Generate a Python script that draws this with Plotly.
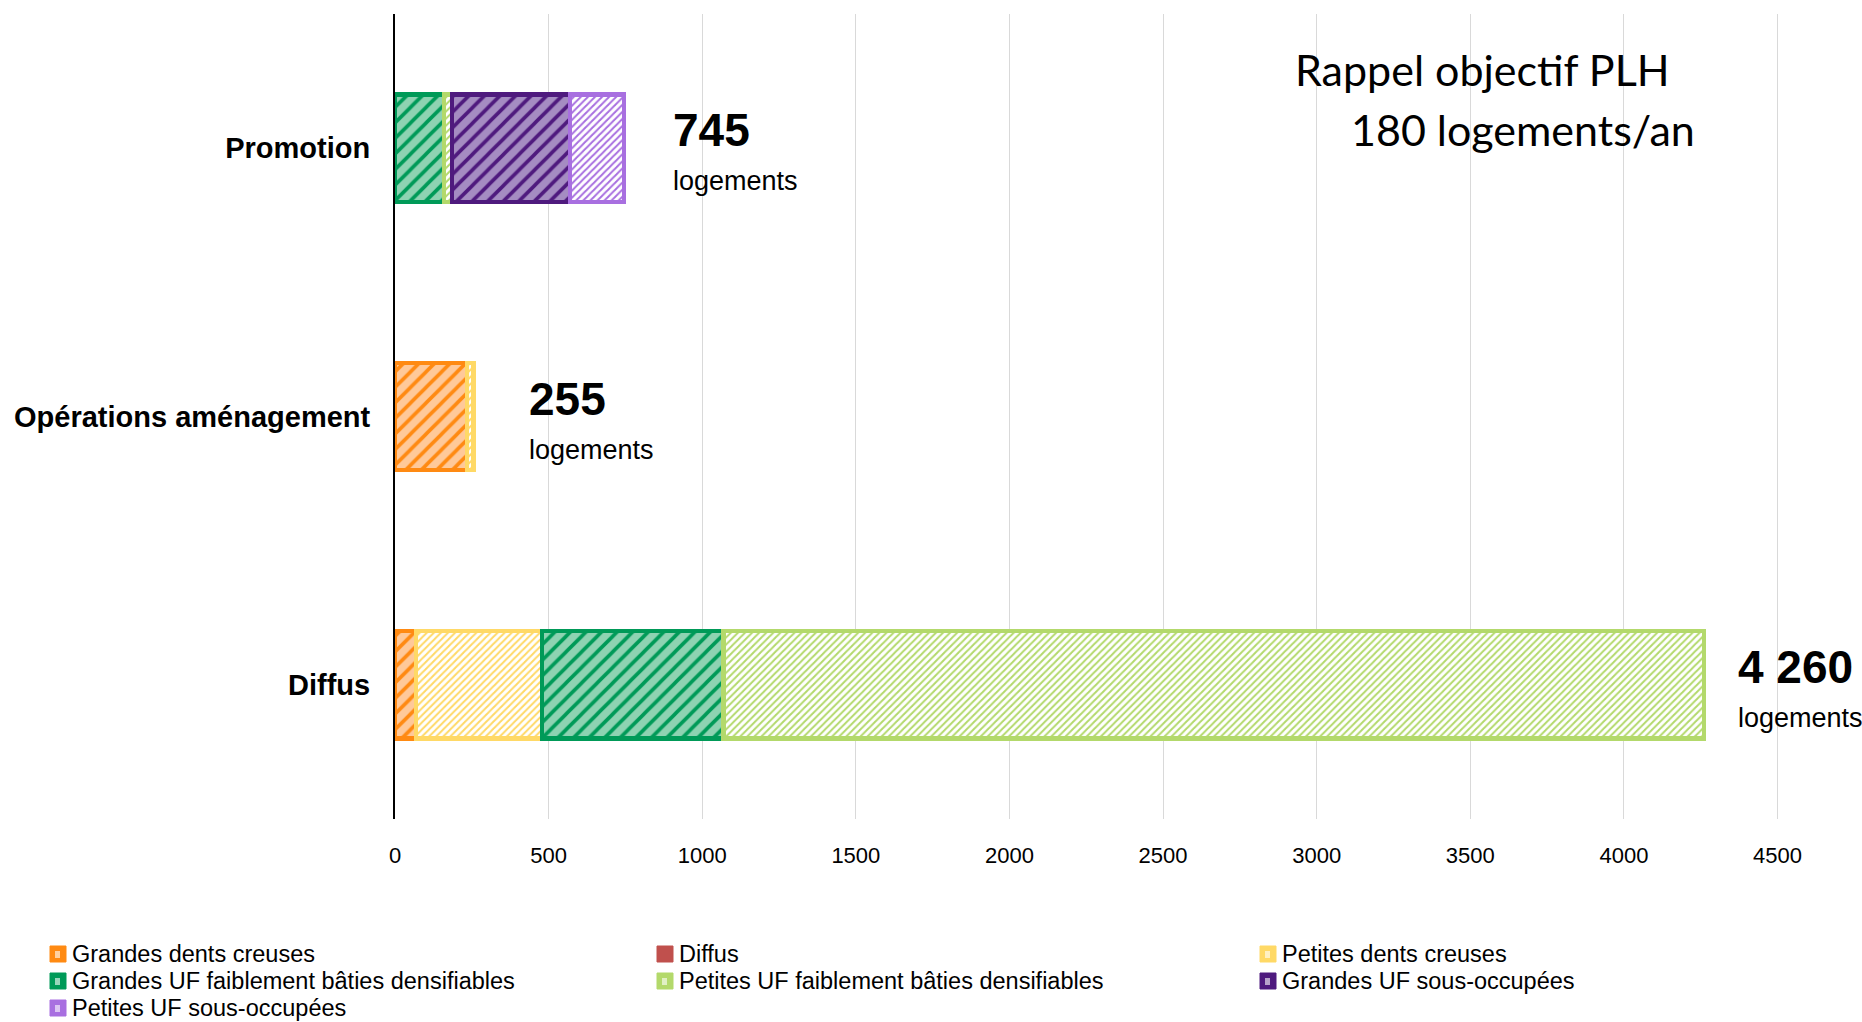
import plotly.graph_objects as go

# ---------------- data ----------------
categories = ["Diffus", "Opérations aménagement", "Promotion"]

series_names = [
    "Grandes dents creuses",
    "Diffus",
    "Petites dents creuses",
    "Grandes UF faiblement bâties densifiables",
    "Petites UF faiblement bâties densifiables",
    "Grandes UF sous-occupées",
    "Petites UF sous-occupées",
]
grandes_dents_creuses = [68, 235, None]
diffus = [None, None, None]
petites_dents_creuses = [410, 20, None]
grandes_uf_faibl = [592, None, 160]
petites_uf_faibl = [3190, None, 25]
grandes_uf_sous = [None, None, 385]
petites_uf_sous = [None, None, 175]

series_values = [
    grandes_dents_creuses, diffus, petites_dents_creuses,
    grandes_uf_faibl, petites_uf_faibl, grandes_uf_sous, petites_uf_sous,
]

x_tick_values = [0, 500, 1000, 1500, 2000, 2500, 3000, 3500, 4000, 4500]
unit_label = "logements"
note_lines = ["Rappel objectif PLH", "180 logements/an"]

# ---------------- styles ----------------
# (line colour, pattern background, pattern size, solidity)
styles = [
    ("#FF8A12", "#FFC999", 11, 0.33),
    ("#C0504D", "#C0504D", 0, 0),
    ("#FFD966", "#FFFFFF", 5, 0.4),
    ("#009A58", "#8ED3B2", 11, 0.33),
    ("#B3D96B", "#FFFFFF", 5, 0.4),
    ("#4F1A7E", "#A58CC2", 11, 0.33),
    ("#A86FE0", "#FFFFFF", 5, 0.4),
]

SANS = "Liberation Sans, Arial"

W, H = 1862, 1022
M_L, M_R, M_T, M_B = 395, 23, 14, 203
PW, PH = W - M_L - M_R, H - M_T - M_B


def px_to_paper(px, py):
    return (px - M_L) / PW, (H - M_B - py) / PH


fig = go.Figure()
for name, vals, (col, bg, psize, sol) in zip(series_names, series_values, styles):
    if psize:
        pattern = dict(shape="/", fgcolor=col, bgcolor=bg, size=psize,
                       solidity=sol, fillmode="replace")
    else:
        pattern = dict(shape="")
    fig.add_trace(go.Bar(
        name=name, y=categories, x=vals, orientation="h",
        width=0.40, showlegend=False,
        marker=dict(color=bg, line=dict(color=col, width=4.5), pattern=pattern),
        hoverinfo="x+name",
    ))

# totals labels
totals = []
for i in range(len(categories)):
    totals.append(sum(v[i] for v in series_values if v[i] is not None))

label_xshift = [32, 54, 47]
for cat, tot, xs in zip(categories, totals, label_xshift):
    txt = f"{tot:,}".replace(",", " ")
    fig.add_annotation(x=tot, y=cat, xref="x", yref="y", text=f"<b>{txt}</b>",
                       showarrow=False, xanchor="left", yanchor="middle",
                       xshift=xs, yshift=18,
                       font=dict(family=SANS, size=46, color="black"))
    fig.add_annotation(x=tot, y=cat, xref="x", yref="y", text=unit_label,
                       showarrow=False, xanchor="left", yanchor="middle",
                       xshift=xs, yshift=-33,
                       font=dict(family=SANS, size=27, color="black"))

# PLH note
fig.add_annotation(x=2922, y=0.9305, xref="x", yref="paper", text=note_lines[0],
                   showarrow=False, xanchor="left", yanchor="middle",
                   font=dict(family="Lato, Open Sans", size=43, color="black"))
fig.add_annotation(x=3104, y=0.856, xref="x", yref="paper", text=note_lines[1],
                   showarrow=False, xanchor="left", yanchor="middle",
                   font=dict(family="Lato, Open Sans", size=43, color="black"))

# legend (3 columns, drawn below the chart)
col_x = [50, 657, 1260]
row_y = [954, 981, 1008]
icon = 16
for i, (name, (col, bg, psize, sol)) in enumerate(zip(series_names, styles)):
    cx, ry = col_x[i % 3], row_y[i // 3]
    x0, y0 = px_to_paper(cx, ry + icon / 2)
    x1, y1 = px_to_paper(cx + icon, ry - icon / 2)
    fig.add_shape(type="rect", xref="paper", yref="paper", x0=x0, x1=x1, y0=y0, y1=y1,
                  fillcolor=col, line=dict(color=col, width=1))
    if psize:
        ix0, iy0 = px_to_paper(cx + 5, ry + 4)
        ix1, iy1 = px_to_paper(cx + 10, ry - 3)
        fig.add_shape(type="rect", xref="paper", yref="paper", x0=ix0, x1=ix1,
                      y0=iy0, y1=iy1, fillcolor="rgba(255,255,255,0.6)", line=dict(width=0))
    tx, ty = px_to_paper(cx + 21, ry)
    fig.add_annotation(x=tx, y=ty, xref="paper", yref="paper", text=name,
                       showarrow=False, xanchor="left", yanchor="middle", borderpad=0,
                       font=dict(family=SANS, size=23.5, color="black"))

fig.update_layout(
    barmode="stack",
    width=W, height=H,
    margin=dict(l=M_L, r=M_R, t=M_T, b=M_B, autoexpand=False),
    plot_bgcolor="white", paper_bgcolor="white",
    showlegend=False,
    xaxis=dict(range=[0, 4700], tickvals=x_tick_values, showgrid=True,
               gridcolor="#D9D9D9", gridwidth=1, zeroline=False, showline=False,
               ticks="", tickfont=dict(family=SANS, size=22, color="black"),
               ticklabelstandoff=21),
    yaxis=dict(categoryorder="array", categoryarray=categories, range=[-0.5, 2.5],
               showline=True, linecolor="black", linewidth=2, ticks="",
               showgrid=False, zeroline=False,
               tickfont=dict(family=SANS, size=29, color="black", weight="bold"),
               ticklabelstandoff=17),
)

fig.write_html("out.html")
